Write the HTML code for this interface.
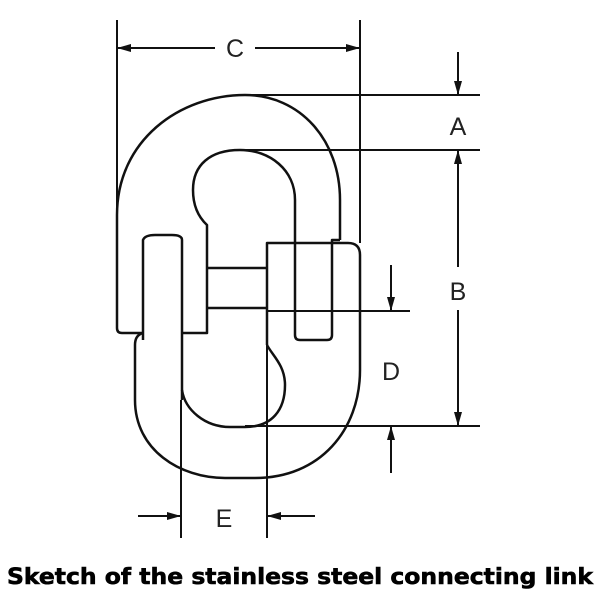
<!DOCTYPE html>
<html><head><meta charset="utf-8"><style>
html,body{margin:0;padding:0;background:#fff;width:600px;height:600px;overflow:hidden}
</style></head><body>
<svg width="600" height="600" viewBox="0 0 600 600" xmlns="http://www.w3.org/2000/svg">
<g fill="none" stroke="#111" stroke-width="2.5" stroke-linejoin="round">
<path d="M117,328 L117,215 C117,140 180,95 245,95 C300,95 340,140 340,200 L340,240"/>
<path d="M117,328 Q117,333 122,333 L143,333"/>
<path d="M182,333 L207,333 L207,225 Q193,212 193,190 C193,165 210,150 240,150 C270,150 295,170 295,200 L295,335 Q295,340 300,340 L327,340 Q332,340 332,335 L332,240 L340,240"/>
<path d="M143,340 L143,240 Q145,235 155,235 L172,235 Q182,235 182,240 L182,400"/>
<path d="M143,333 Q135,335 135,345 L135,400 C135,450 180,478 225,478 L255,478 C320,478 360,430 360,370 L360,255 Q360,243 348,243 L267,243 L267,345"/>
<path d="M182,390 C185,410 205,427 230,427 L245,427 C272,427 285,410 285,385 C285,365 272,355 267,345"/>
<path d="M207,268 L267,268 M207,308 L267,308"/>
<path stroke-width="2" d="M117,20 L117,215 M360,20 L360,243 M117,48 L215,48 M255,48 L360,48
M245,95 L480,95 M240,150 L480,150 M267,311 L410,311 M245,426 L480,426
M458,52 L458,95 M458,150 L458,267 M458,310 L458,426
M391,265 L391,311 M391,426 L391,473
M181,400 L181,538 M267,345 L267,538 M138,516 L181,516 M267,516 L315,516"/>
</g>
<g fill="#111">
<polygon points="117,48 131,44 131,52"/><polygon points="360,48 346,44 346,52"/>
<polygon points="458,95 454,81 462,81"/><polygon points="458,150 454,164 462,164"/><polygon points="458,426 454,412 462,412"/>
<polygon points="391,311 387,297 395,297"/><polygon points="391,426 387,440 395,440"/>
<polygon points="181,516 167,512 167,520"/><polygon points="267,516 281,512 281,520"/>
</g>
<g font-family="Liberation Sans, sans-serif" font-size="25" fill="#222" text-anchor="middle">
<text x="235" y="57">C</text><text x="458" y="135">A</text><text x="458" y="300">B</text>
<text x="391" y="380">D</text><text x="224" y="527">E</text>
</g>
<text x="7" y="584" font-family="DejaVu Sans, sans-serif" font-weight="bold" font-size="22" textLength="586" lengthAdjust="spacingAndGlyphs" fill="#000" stroke="#000" stroke-width="0.6">Sketch of the stainless steel connecting link</text>
</svg>
</body></html>
